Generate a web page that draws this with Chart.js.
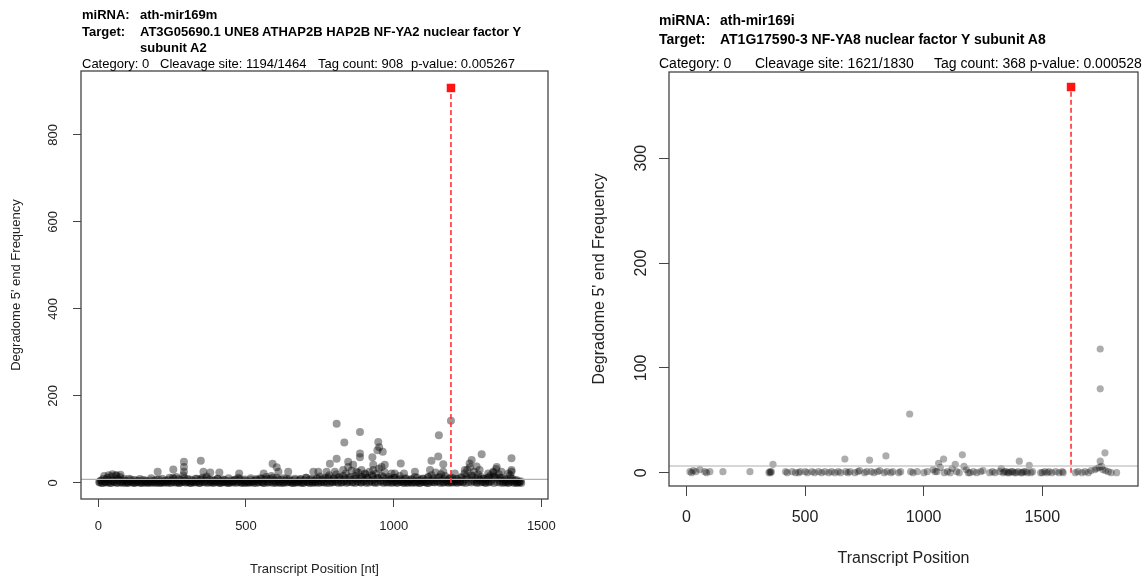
<!DOCTYPE html>
<html>
<head>
<meta charset="utf-8">
<script src="https://cdn.jsdelivr.net/npm/chart.js@4.4.1/dist/chart.umd.min.js"></script>
<style>
  body { margin: 0; background: #fff; width: 1144px; height: 577px; position: relative; overflow: hidden;
         font-family: "Liberation Sans", Arial, Helvetica, sans-serif; }
  .t { position: absolute; font-size: 13px; line-height: 15px; white-space: pre; color: #000; }
  .r { font-size: 14px; line-height: 16px; }
  .b { font-weight: bold; }
  #left { position: absolute; left: 0; top: 0; }
  #right { position: absolute; left: 572px; top: 0; }
</style>
</head>
<body>
<canvas id="left" width="572" height="577"></canvas>
<canvas id="right" width="572" height="577"></canvas>

<!-- left header -->
<div class="t b" style="left:82px;top:7px">miRNA:</div>
<div class="t b" style="left:140px;top:7px">ath-mir169m</div>
<div class="t b" style="left:82px;top:24px">Target:</div>
<div class="t b" style="left:140px;top:24px">AT3G05690.1 UNE8 ATHAP2B HAP2B NF-YA2 nuclear factor Y</div>
<div class="t b" style="left:140px;top:40px">subunit A2</div>
<div class="t" style="left:82px;top:56px">Category: 0</div>
<div class="t" style="left:160px;top:56px">Cleavage site: 1194/1464</div>
<div class="t" style="left:318px;top:56px">Tag count: 908</div>
<div class="t" style="left:411px;top:56px">p-value: 0.005267</div>

<!-- right header -->
<div class="t r b" style="left:659px;top:12px">miRNA:</div>
<div class="t r b" style="left:720px;top:12px">ath-mir169i</div>
<div class="t r b" style="left:659px;top:31px">Target:</div>
<div class="t r b" style="left:720px;top:31px">AT1G17590-3 NF-YA8 nuclear factor Y subunit A8</div>
<div class="t r" style="left:659px;top:55px">Category: 0</div>
<div class="t r" style="left:755px;top:55px">Cleavage site: 1621/1830</div>
<div class="t r" style="left:934px;top:55px">Tag count: 368 p-value: 0.000528</div>

<script>
// ---- left panel: ath-mir169m on AT3G05690.1 ----
// baseline reads along the transcript
const leftBand = [
  [3,2],[8,5],[12,0],[17,9],[21,3],[26,1],[31,12],[35,4],[40,0],[45,15],[49,6],[54,2],[59,18],[63,1],[68,7],[73,14],[77,3],[82,0],[87,10],[91,5],
  [96,2],[101,0],[106,4],[110,8],[115,1],[120,3],[124,0],[129,6],[134,2],[138,5],[143,0],[148,3],[152,7],[157,1],[162,4],[166,0],[171,2],[176,6],[180,3],[185,1],
  [190,5],[194,0],[199,3],[204,8],[208,2],[213,0],[218,4],[222,1],[227,6],[232,3],[236,0],[241,12],[246,2],[250,5],[255,9],[260,1],[264,14],[269,3],[274,0],[278,7],
  [283,2],[288,18],[292,5],[297,1],[302,9],[306,3],[311,0],[316,6],[320,2],[325,4],[330,1],[334,10],[339,3],[344,0],[348,7],[353,12],[358,2],[362,5],[367,15],[372,3],
  [376,8],[381,1],[386,4],[390,0],[395,6],[400,2],[404,9],[409,3],[414,0],[418,5],[423,2],[428,7],[432,1],[437,4],[442,0],[446,3],[451,6],[456,1],[460,4],[465,8],
  [470,2],[474,12],[479,5],[484,0],[488,3],[493,6],[498,1],[502,4],[507,0],[512,2],[516,7],[521,3],[526,0],[530,5],[535,9],[540,2],[544,6],[549,11],[554,3],[558,0],
  [563,7],[568,14],[572,4],[577,1],[582,9],[586,16],[591,3],[596,6],[600,0],[605,12],[610,4],[614,1],[619,8],[624,3],[628,0],[633,5],[638,10],[642,2],[647,6],[652,1],
  [656,4],[661,0],[666,7],[670,3],[675,1],[680,5],[684,9],[689,2],[694,0],[698,6],[703,12],[708,3],[712,1],[717,8],[722,4],[726,0],[731,6],[736,2],[740,10],[745,4],
  [750,15],[754,1],[759,7],[764,3],[768,12],[773,0],[778,9],[782,18],[787,4],[792,2],[796,11],[801,6],[806,20],[810,3],[815,14],[820,8],[824,1],[829,16],[834,5],[838,22],
  [843,3],[848,12],[852,7],[857,28],[862,2],[866,10],[871,16],[876,4],[880,24],[885,9],[890,1],[894,14],[899,6],[904,20],[908,3],[913,11],[918,26],[922,5],[927,18],[932,8],
  [936,2],[941,22],[946,12],[950,33],[955,6],[960,16],[964,3],[969,25],[974,9],[978,1],[983,14],[988,5],[992,8],[997,2],[1002,12],[1006,4],[1011,0],[1016,7],[1020,16],[1025,3],
  [1030,6],[1034,1],[1039,10],[1044,4],[1048,0],[1053,6],[1058,2],[1062,9],[1067,3],[1072,14],[1076,1],[1081,5],[1086,0],[1090,7],[1095,3],[1100,10],[1104,2],[1109,6],[1114,0],[1118,14],
  [1123,4],[1128,18],[1132,7],[1137,2],[1142,24],[1146,5],[1151,12],[1156,3],[1160,20],[1165,8],[1170,1],[1174,16],[1179,5],[1184,2],[1188,9],[1193,3],[1198,12],[1202,1],[1207,6],[1212,3],
  [1216,9],[1221,2],[1226,5],[1230,14],[1235,3],[1240,22],[1244,8],[1249,30],[1254,12],[1258,36],[1263,18],[1268,6],[1272,26],[1277,10],[1282,2],[1286,20],[1291,7],[1296,14],[1300,3],[1305,9],
  [1310,1],[1314,6],[1319,12],[1324,3],[1328,18],[1333,8],[1338,24],[1342,14],[1347,32],[1352,10],[1356,20],[1361,5],[1366,12],[1370,2],[1375,7],[1380,1],[1384,5],[1389,0],[1394,18],[1398,4],
  [1403,9],[1408,2],[1412,5],[1417,0],[1422,3],[1426,1],[1430,4]
];
const leftLow = [
  [5,1],[15,0],[24,2],[34,1],[44,0],[53,3],[63,0],[72,1],[82,2],[92,0],[101,1],[111,3],[121,0],[130,2],[140,1],[150,0],[159,2],[169,1],[178,0],[188,3],
  [198,1],[207,0],[217,2],[226,1],[236,3],[246,0],[255,2],[265,1],[275,0],[284,3],[294,1],[303,2],[313,0],[322,1],[332,3],[342,0],[351,2],[361,1],[370,0],[380,2],
  [390,1],[399,3],[409,0],[418,1],[428,2],[438,0],[447,1],[457,3],[466,0],[476,2],[486,1],[495,0],[505,2],[514,1],[524,3],[534,0],[543,1],[553,2],[562,0],[572,1],
  [582,3],[591,0],[601,2],[610,1],[620,0],[630,2],[639,1],[649,3],[658,0],[668,1],[678,2],[687,0],[697,1],[706,3],[716,0],[726,2],[735,1],[745,0],[754,2],[764,1],
  [774,3],[783,0],[793,1],[802,2],[812,0],[822,1],[831,3],[841,0],[850,2],[860,1],[870,0],[879,2],[889,1],[898,3],[908,0],[918,1],[927,2],[937,0],[946,1],[956,3],
  [966,0],[975,2],[985,1],[994,0],[1004,2],[1014,1],[1023,3],[1033,0],[1042,1],[1052,2],[1062,0],[1071,1],[1081,3],[1090,0],[1100,2],[1110,1],[1119,0],[1129,2],[1138,1],[1148,3],
  [1158,0],[1167,1],[1177,2],[1186,0],[1196,1],[1206,3],[1215,0],[1225,2],[1234,1],[1244,0],[1254,2],[1263,1],[1273,3],[1282,0],[1292,1],[1302,2],[1311,0],[1321,1],[1330,3],[1340,0],
  [1350,2],[1359,1],[1369,0],[1378,2],[1388,1],[1398,3],[1407,0],[1417,1],[1426,2],[1432,0]
];
const leftMid = [
  [10,6],[28,8],[47,5],[66,9],[85,6],[104,10],[122,7],[141,9],[160,6],[179,11],[197,8],[216,10],[235,7],[253,12],[272,9],[291,11],[310,8],[329,10],[347,9],[366,11],
  [385,7],[404,10],[422,8],[441,11],[460,7],[479,9],[497,8],[516,11],[535,7],[554,10],[572,9],[591,12],[610,8],[629,11],[647,9],[666,10],[685,8],[704,12],[722,9],[741,11],
  [760,10],[779,13],[797,9],[816,12],[835,11],[854,14],[872,10],[891,13],[910,12],[929,15],[947,11],[966,13],[985,10],[1004,12],[1022,9],[1041,11],[1060,8],[1079,12],[1097,10],[1116,13],
  [1135,11],[1154,14],[1172,10],[1191,12],[1210,9],[1229,12],[1247,14],[1266,16],[1285,12],[1304,10],[1322,13],[1341,15],[1360,12],[1379,9],[1397,11],[1416,7]
];
const leftHigh = [
  [807,136],[886,117],[833,93],[948,94],[951,82],[945,75],[963,72],[886,68],[886,59],[928,59],[807,56],[784,44],[1024,45],
  [1153,110],[1194,143],[1151,61],[1128,51],[1168,43],[1298,66],[1399,57],[1399,30],[1399,26],[1264,53],[1257,45],[1281,38],
  [1349,37],[1337,26],[846,49],[846,37],[863,42],[829,30],[970,42],[959,37],[931,42],[931,30],[891,30],[874,26],[993,22],
  [1072,26],[1168,26],[1123,30],[745,26],[773,26],[801,26],[903,22],[1004,22],[1035,22],[1207,22],[1241,30],[1291,30],
  [1320,22],[1365,26],[1388,22],[201,26],[254,31],[290,49],[290,37],[290,26],[347,51],[356,26],[379,24],[410,24],[477,22],
  [590,44],[604,36],[610,26],[643,26],[728,26],[560,22],[20,16],[35,18],[48,20],[62,17],[75,19]
];
const leftSite = 1194, leftTag = 908, leftLine = 8.5;
const leftXTicks = [0, 500, 1000, 1500];
const leftYTicks = [0, 200, 400, 600, 800];

// ---- right panel: ath-mir169i on AT1G17590-3 ----
const rightPoints = [
  [15,1],[22,0],[29,2],[40,1],[57,3],[78,1],[85,0],[99,1],[154,1],[268,1],[348,0],[352,1],[355,0],[358,1],[365,8],[418,1],[425,0],
  [446,1],[460,0],[473,0],[480,1],[501,1],[510,0],[529,1],[540,0],[557,1],[570,0],[584,1],[600,0],[612,1],[626,0],[640,1],[650,0],
  [668,13],[672,1],[681,0],[690,1],[710,0],[723,1],[730,2],[751,0],[760,1],[772,12],[779,1],[790,0],[806,1],[815,2],[834,0],[841,16],
  [845,1],[862,0],[870,1],[895,0],[903,1],[941,56],[945,1],[955,0],[973,1],[1001,0],[1015,1],[1040,3],[1048,1],[1056,1],[1063,9],[1070,5],
  [1084,13],[1087,0],[1100,1],[1112,0],[1120,4],[1133,8],[1139,1],[1150,0],[1163,17],[1170,6],[1180,3],[1188,0],[1195,0],[1210,1],[1223,0],
  [1240,1],[1250,2],[1278,0],[1290,1],[1300,0],[1320,1],[1327,4],[1335,0],[1340,1],[1348,1],[1355,0],[1360,0],[1368,1],[1375,1],[1382,0],
  [1390,0],[1398,1],[1403,11],[1410,0],[1415,0],[1422,1],[1431,1],[1437,0],[1445,7],[1452,0],[1459,1],[1493,0],[1500,0],[1510,1],
  [1520,0],[1528,1],[1540,0],[1556,1],[1570,0],[1584,1],[1588,0],[1639,0],[1650,1],[1667,0],[1680,1],[1694,0],[1705,2],[1722,3],
  [1730,4],[1740,5],[1744,118],[1744,80],[1744,11],[1750,6],[1755,3],[1764,19],[1766,2],[1778,1],[1790,0],[1813,0]
];
const rightSite = 1621, rightTag = 368, rightLine = 6.4;
const rightXTicks = [0, 500, 1000, 1500];
const rightYTicks = [0, 100, 200, 300];

const FONT = '"Liberation Sans", Arial, Helvetica, sans-serif';
const pairs = a => a.map(p => ({x: p[0], y: p[1]}));

const boxPlugin = {
  id: 'box',
  afterDatasetsDraw(chart) {
    const {ctx, chartArea: a} = chart;
    ctx.save();
    ctx.strokeStyle = '#444';
    ctx.lineWidth = 1.3;
    ctx.strokeRect(a.left, a.top, a.right - a.left, a.bottom - a.top);
    ctx.restore();
  }
};

function makePanel(id, o) {
  new Chart(document.getElementById(id), {
    type: 'scatter',
    data: {
      datasets: [
        { data: [{x: o.site, y: o.tag}], pointStyle: 'rect', pointRadius: 6, backgroundColor: '#ff1414', borderWidth: 0 },
        { data: [{x: o.site, y: 0}, {x: o.site, y: o.tag}], showLine: true, pointRadius: 0,
          borderColor: '#ff3333', borderWidth: 1.6, borderDash: [5, 3] },
        { data: [{x: o.xMin, y: o.hline}, {x: o.xMax, y: o.hline}], showLine: true, pointRadius: 0,
          borderColor: '#b0b0b0', borderWidth: 1.2 },
        { data: o.points, pointRadius: o.r, backgroundColor: o.fill, borderWidth: 0 }
      ]
    },
    options: {
      responsive: false,
      animation: false,
      layout: { padding: { left: 0, top: o.padTop, right: o.padRight, bottom: 0 } },
      plugins: { legend: { display: false }, tooltip: { enabled: false } },
      scales: {
        x: {
          type: 'linear', min: o.xMin, max: o.xMax,
          afterBuildTicks: s => { s.ticks = o.xTicks.map(v => ({value: v})); },
          afterFit: s => { s.height = o.xHeight; },
          border: { display: false },
          grid: { drawOnChartArea: false, drawTicks: true, tickLength: o.tl, color: '#444' },
          ticks: { font: { size: o.fs, family: FONT }, color: '#222', padding: o.xPad, maxRotation: 0, autoSkip: false,
                   callback: v => String(v) },
          title: { display: true, text: o.xTitle, color: '#222', font: { size: o.fs, family: FONT },
                   padding: { top: 0, bottom: o.xTitlePad } }
        },
        y: {
          type: 'linear', min: o.yMin, max: o.yMax,
          afterBuildTicks: s => { s.ticks = o.yTicks.map(v => ({value: v})); },
          afterFit: s => { s.width = o.yWidth; },
          border: { display: false },
          grid: { drawOnChartArea: false, drawTicks: true, tickLength: o.tl, color: '#444' },
          ticks: { font: { size: o.fs, family: FONT }, color: '#222', padding: o.yPad,
                   minRotation: 90, maxRotation: 90, crossAlign: 'center', autoSkip: false,
                   callback: v => String(v) },
          title: { display: true, text: "Degradome 5' end Frequency", color: '#222', font: { size: o.fs, family: FONT },
                   padding: { top: o.yTitlePad, bottom: 0 } }
        }
      }
    },
    plugins: [boxPlugin]
  });
}

makePanel('left', {
  points: pairs(leftLow.concat(leftBand, leftMid, leftHigh)),
  site: leftSite, tag: leftTag, hline: leftLine,
  xTicks: leftXTicks, yTicks: leftYTicks,
  xMin: -58.56, xMax: 1522.56, yMin: -36.8, yMax: 947,
  padTop: 71, padRight: 24, xHeight: 78, yWidth: 81,
  tl: 8, fs: 13, xPad: 12, yPad: 9, xTitlePad: 0, yTitlePad: 9, r: 4, fill: 'rgba(0,0,0,0.4)',
  xTitle: 'Transcript Position [nt]'
});

makePanel('right', {
  points: pairs(rightPoints),
  site: rightSite, tag: rightTag, hline: rightLine,
  xTicks: rightXTicks, yTicks: rightYTicks,
  xMin: -73.2, xMax: 1903.2, yMin: -12.7, yMax: 382.3,
  padTop: 72, padRight: 1, xHeight: 91, yWidth: 97,
  tl: 10, fs: 16, xPad: 12, yPad: 4, xTitlePad: 9, yTitlePad: 18, r: 3.6, fill: 'rgba(0,0,0,0.32)',
  xTitle: 'Transcript Position'
});
</script>
</body>
</html>
